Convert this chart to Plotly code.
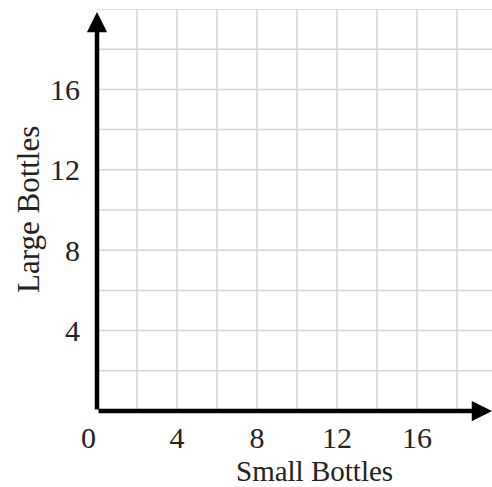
import plotly.graph_objects as go

x_ticks = [4, 8, 12, 16]
x_tick_labels = ["4", "8", "12", "16"]
y_ticks = [4, 8, 12, 16]
y_tick_labels = ["4", "8", "12", "16"]
grid_vals = [2, 4, 6, 8, 10, 12, 14, 16, 18, 20]
x_title = "Small Bottles"
y_title = "Large Bottles"
x_max = 19.75
y_max = 20

FONT = "Liberation Serif, Times New Roman, serif"
TXT = "#222222"
GRID = "#d4d4d4"

fig = go.Figure()
fig.add_trace(go.Scatter(x=[None], y=[None], mode="markers", showlegend=False))

shapes = []
for g in grid_vals:
    if g <= x_max:
        shapes.append(dict(type="line", xref="x", yref="paper", x0=g, x1=g, y0=0, y1=1,
                           line=dict(color=GRID, width=1.5), layer="below"))
    shapes.append(dict(type="line", xref="paper", yref="y", x0=0, x1=1, y0=g, y1=g,
                       line=dict(color=GRID, width=1.5), layer="below"))

annotations = []
# axis arrows
annotations.append(dict(x=0, y=y_max - 0.15, ax=0, ay=0, xref="x", yref="y", axref="x", ayref="y",
                        showarrow=True, arrowhead=2, arrowsize=0.9, arrowwidth=4.5, arrowcolor="black", text=""))
annotations.append(dict(x=x_max, y=0, ax=0, ay=0, xref="x", yref="y", axref="x", ayref="y",
                        showarrow=True, arrowhead=2, arrowsize=0.9, arrowwidth=4.5, arrowcolor="black", text=""))
annotations.append(dict(x=0, y=0, xref="x", yref="y", text="0", showarrow=False,
                        xanchor="center", yanchor="middle",
                        xshift=-9, yshift=-26, font=dict(family=FONT, size=30, color=TXT)))
annotations.append(dict(x=0.5, y=0, xref="paper", yref="paper", text=x_title, showarrow=False,
                        xanchor="center", yanchor="middle",
                        xshift=20, yshift=-60, font=dict(family=FONT, size=29, color=TXT)))
annotations.append(dict(x=0, y=0.5, xref="paper", yref="paper", text=y_title, showarrow=False,
                        xanchor="center", yanchor="middle",
                        xshift=-69, textangle=-90, font=dict(family=FONT, size=31, color=TXT)))

fig.update_layout(
    width=492, height=487,
    margin=dict(l=97, r=0, t=9, b=76, autoexpand=False),
    paper_bgcolor="white", plot_bgcolor="white",
    shapes=shapes, annotations=annotations,
    xaxis=dict(range=[0, x_max], tickvals=x_ticks, ticktext=x_tick_labels, showgrid=False,
               zeroline=False, showline=False, ticks="", ticklabelstandoff=6, automargin=False,
               tickfont=dict(family=FONT, size=30, color=TXT), fixedrange=True),
    yaxis=dict(range=[0, y_max], tickvals=y_ticks, ticktext=y_tick_labels, showgrid=False,
               zeroline=False, showline=False, ticks="", ticklabelstandoff=16, automargin=False,
               tickfont=dict(family=FONT, size=30, color=TXT), fixedrange=True),
    showlegend=False,
)
fig.write_html("out.html", config={"displayModeBar": False},
               post_script="document.body.style.margin='0';document.body.style.overflow='hidden';")
